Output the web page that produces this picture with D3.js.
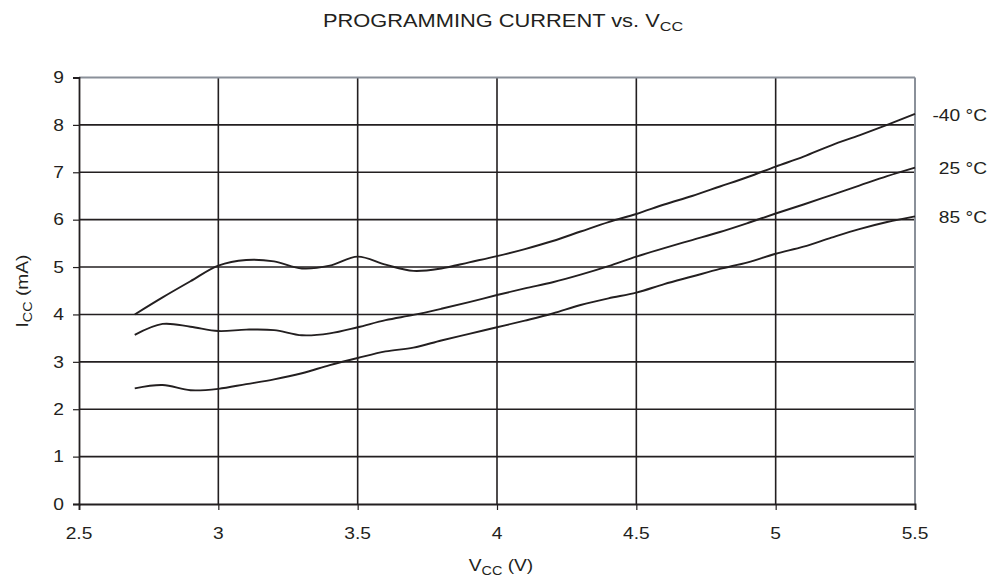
<!DOCTYPE html>
<html><head><meta charset="utf-8">
<script src="https://cdn.jsdelivr.net/npm/d3@7"></script>
<style>body{margin:0;background:#fff;}svg{display:block;}text{font-family:"Liberation Sans",Arial,sans-serif;fill:#231f20;}</style>
</head><body>
<svg id="chart" width="1006" height="582"></svg>
<script>
const vcc = [2.7,2.8,2.9,3.0,3.1,3.2,3.3,3.4,3.5,3.6,3.7,3.8,3.9,4.0,4.1,4.2,4.3,4.4,4.5,4.6,4.7,4.8,4.9,5.0,5.1,5.2,5.3,5.4,5.5];
const iccM40 = [4.0,4.36,4.7,5.03,5.15,5.12,4.97,5.03,5.22,5.05,4.92,4.97,5.1,5.23,5.38,5.55,5.75,5.95,6.12,6.32,6.5,6.7,6.9,7.12,7.33,7.57,7.78,8.0,8.23];
const icc25 = [3.57,3.8,3.74,3.65,3.68,3.67,3.56,3.6,3.73,3.88,3.99,4.12,4.26,4.41,4.55,4.68,4.84,5.02,5.22,5.4,5.57,5.74,5.93,6.13,6.32,6.52,6.72,6.92,7.1];
const icc85 = [2.44,2.51,2.4,2.43,2.53,2.63,2.76,2.93,3.08,3.22,3.3,3.45,3.59,3.73,3.87,4.02,4.2,4.34,4.46,4.64,4.8,4.96,5.1,5.28,5.43,5.62,5.8,5.95,6.07];
const seriesLabels = ["-40 °C","25 °C","85 °C"];
const xTicks = [2.5,3,3.5,4,4.5,5,5.5];
const xTickLabels = ["2.5","3","3.5","4","4.5","5","5.5"];
const yTicks = [0,1,2,3,4,5,6,7,8,9];

const SX = 1.2;
const svg = d3.select("#chart");
const x = d3.scaleLinear().domain([2.5,5.5]).range([79,915]);
const y = d3.scaleLinear().domain([0,9]).range([504,77.5]);
const ink = "#231f20";

// horizontal grid
svg.append("g").selectAll("line").data(yTicks.slice(1,-1)).join("line")
  .attr("x1",x(2.5)).attr("x2",x(5.5)).attr("y1",d=>y(d)).attr("y2",d=>y(d))
  .attr("stroke",ink).attr("stroke-width",1.6);
// vertical grid
svg.append("g").selectAll("line").data(xTicks.slice(1,-1)).join("line")
  .attr("x1",d=>x(d)).attr("x2",d=>x(d)).attr("y1",y(0)).attr("y2",y(9))
  .attr("stroke",ink).attr("stroke-width",1.6);
// frame: top & right grey
svg.append("line").attr("x1",x(2.5)).attr("x2",x(5.5)).attr("y1",y(9)).attr("y2",y(9)).attr("stroke","#8a9099").attr("stroke-width",2);
svg.append("line").attr("x1",x(5.5)).attr("x2",x(5.5)).attr("y1",y(9)).attr("y2",y(0)).attr("stroke","#8a9099").attr("stroke-width",2);

// axes
const yAxis = d3.axisLeft(y).tickValues(yTicks).tickSize(6).tickPadding(0).tickFormat(()=> "");
const xAxis = d3.axisBottom(x).tickValues(xTicks).tickSize(6).tickFormat(()=> "");
const gy = svg.append("g").attr("transform",`translate(${x(2.5)},0)`).call(yAxis);
const gx = svg.append("g").attr("transform",`translate(0,${y(0)})`).call(xAxis);
[gx,gy].forEach(g=>{ g.select(".domain").attr("stroke",ink).attr("stroke-width",1.8);
  g.selectAll(".tick line").attr("stroke",ink).attr("stroke-width",1.2);});

// tick labels (scaled horizontally)
svg.append("g").selectAll("text").data(yTicks).join("text")
  .attr("transform",d=>`translate(64,${y(d)}) scale(${SX},1)`)
  .attr("text-anchor","end").attr("dy","0.36em").attr("font-size",16).text(d=>d);
svg.append("g").selectAll("text").data(xTicks).join("text")
  .attr("transform",(d)=>`translate(${x(d)},539) scale(${SX},1)`)
  .attr("text-anchor","middle").attr("font-size",16).text((d,i)=>xTickLabels[i]);

// curves
const line = d3.line().x((d,i)=>x(vcc[i])).y(d=>y(d)).curve(d3.curveCatmullRom.alpha(0.5));
const all = [iccM40, icc25, icc85];
svg.append("g").selectAll("path").data(all).join("path")
  .attr("d",line).attr("fill","none").attr("stroke",ink).attr("stroke-width",1.9);

// series labels
svg.append("g").selectAll("text").data(all).join("text")
  .attr("transform",d=>`translate(987,${y(d[d.length-1])+1}) scale(${SX},1)`)
  .attr("text-anchor","end").attr("dy","0.36em").attr("font-size",16)
  .text((d,i)=>seriesLabels[i]);

// title
const t = svg.append("text").attr("transform",`translate(503,27) scale(${SX},1)`)
  .attr("text-anchor","middle").attr("font-size",18.2);
t.append("tspan").text("PROGRAMMING CURRENT vs. V");
t.append("tspan").attr("font-size",13.5).attr("dy",4).text("CC");

// x label
const xl = svg.append("text").attr("transform",`translate(501,571) scale(${SX},1)`)
  .attr("text-anchor","middle").attr("font-size",16);
xl.append("tspan").text("V");
xl.append("tspan").attr("font-size",12).attr("dy",4).text("CC");
xl.append("tspan").attr("dy",-4).text(" (V)");

// y label
const yl = svg.append("text").attr("transform",`translate(28,291) scale(1,${SX}) rotate(-90)`)
  .attr("text-anchor","middle").attr("font-size",16);
yl.append("tspan").text("I");
yl.append("tspan").attr("font-size",12).attr("dy",4).text("CC");
yl.append("tspan").attr("dy",-4).text(" (mA)");
</script>
</body></html>
